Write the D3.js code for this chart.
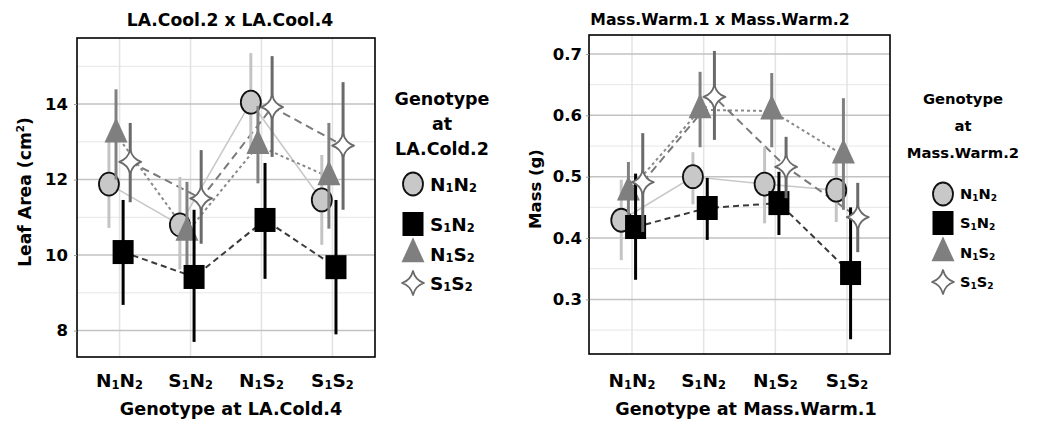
<!DOCTYPE html>
<html>
<head>
<meta charset="utf-8">
<script src="https://cdn.jsdelivr.net/npm/d3@7"></script>
<style>
  html, body { margin: 0; padding: 0; background: #fff; }
  svg { display: block; }
  text { font-family: "DejaVu Sans", sans-serif; font-weight: 700; fill: #000; }
</style>
</head>
<body>
<svg id="chart" width="1051" height="425"></svg>
<script>
// ---------------- DATA ----------------
const categories = ["N1N2", "S1N2", "N1S2", "S1S2"];       // x categories
const seriesNames = ["N1N2", "N1S2", "S1N2", "S1S2"];      // dodge / drawing order
const legendOrder = ["N1N2", "S1N2", "N1S2", "S1S2"];

// Panel 1: Leaf area (cm^2)
const laMean_N1N2 = [11.88, 10.80, 14.05, 11.46];
const laLow_N1N2  = [10.72, 9.62, 12.75, 10.27];
const laHigh_N1N2 = [13.00, 12.07, 15.35, 12.65];

const laMean_S1N2 = [10.08, 9.42, 10.93, 9.68];
const laLow_S1N2  = [8.68, 7.70, 9.37, 7.90];
const laHigh_S1N2 = [11.46, 11.20, 12.44, 11.46];

const laMean_N1S2 = [13.20, 10.60, 12.90, 12.07];
const laLow_N1S2  = [12.00, 9.28, 11.90, 10.70];
const laHigh_N1S2 = [14.39, 11.94, 13.95, 13.50];

const laMean_S1S2 = [12.47, 11.50, 13.92, 12.90];
const laLow_S1S2  = [11.40, 10.30, 12.60, 11.20];
const laHigh_S1S2 = [13.50, 12.78, 15.27, 14.58];

const laTicks = [8, 10, 12, 14];
const laMinor = [9, 11, 13, 15];

// Panel 2: Mass (g)
const mMean_N1N2 = [0.429, 0.500, 0.488, 0.478];
const mLow_N1N2  = [0.364, 0.455, 0.424, 0.426];
const mHigh_N1N2 = [0.495, 0.540, 0.548, 0.524];

const mMean_S1N2 = [0.418, 0.449, 0.457, 0.343];
const mLow_S1N2  = [0.332, 0.397, 0.405, 0.235];
const mHigh_S1N2 = [0.505, 0.498, 0.508, 0.450];

const mMean_N1S2 = [0.475, 0.609, 0.607, 0.535];
const mLow_N1S2  = [0.430, 0.548, 0.548, 0.446];
const mHigh_N1S2 = [0.524, 0.671, 0.669, 0.628];

const mMean_S1S2 = [0.491, 0.630, 0.516, 0.434];
const mLow_S1S2  = [0.410, 0.560, 0.465, 0.377];
const mHigh_S1S2 = [0.571, 0.705, 0.565, 0.490];

const mTicks = [0.3, 0.4, 0.5, 0.6, 0.7];
const mMinor = [0.25, 0.35, 0.45, 0.55, 0.65];

// ---------------- STYLE ----------------
const styles = {
  N1N2: { shape: "circle",   fill: "#c8c8c8", stroke: "#111", bar: "#c4c4c4", line: "#c8c8c8", lw: 1.6, dash: null },
  N1S2: { shape: "triangle", fill: "#7f7f7f", stroke: "none", bar: "#808080", line: "#8a8a8a", lw: 2,   dash: "3,3" },
  S1N2: { shape: "square",   fill: "#000",    stroke: "none", bar: "#000",    line: "#3a3a3a", lw: 2,   dash: "6,4" },
  S1S2: { shape: "star",     fill: "#fff",    stroke: "#6a6a6a", bar: "#6a6a6a", line: "#7a7a7a", lw: 2, dash: "8,5" }
};

function seriesTable(prefix) {
  const src = prefix === "la"
    ? { N1N2: [laMean_N1N2, laLow_N1N2, laHigh_N1N2], S1N2: [laMean_S1N2, laLow_S1N2, laHigh_S1N2],
        N1S2: [laMean_N1S2, laLow_N1S2, laHigh_N1S2], S1S2: [laMean_S1S2, laLow_S1S2, laHigh_S1S2] }
    : { N1N2: [mMean_N1N2, mLow_N1N2, mHigh_N1N2], S1N2: [mMean_S1N2, mLow_S1N2, mHigh_S1N2],
        N1S2: [mMean_N1S2, mLow_N1S2, mHigh_N1S2], S1S2: [mMean_S1S2, mLow_S1S2, mHigh_S1S2] };
  return seriesNames.map(name => ({
    name,
    values: categories.map((c, i) => ({ cat: c, mean: src[name][0][i], low: src[name][1][i], high: src[name][2][i] }))
  }));
}

const svg = d3.select("#chart");

function subText(sel, label, size) {
  // label like "N1N2": letters normal, digits as subscripts
  sel.text(null);
  let prevDigit = false;
  for (const ch of label) {
    const isDigit = /[0-9]/.test(ch);
    const t = sel.append("tspan").text(ch);
    if (isDigit) { t.attr("font-size", size * 0.62).attr("dy", prevDigit ? 0 : 1.5); }
    else { t.attr("font-size", size).attr("dy", prevDigit ? -1.5 : 0); }
    prevDigit = isDigit;
  }
}

function markerPath(shape) {
  if (shape === "triangle") {
    const w = 11.5, h = 25; // centroid at 0
    return `M0,${-h * 2 / 3}L${w},${h / 3}L${-w},${h / 3}Z`;
  }
  if (shape === "star") {
    const w = 11, h = 12, c = 0.22;
    return `M0,${-h}Q${w * c},${-h * c} ${w},0Q${w * c},${h * c} 0,${h}Q${-w * c},${h * c} ${-w},0Q${-w * c},${-h * c} 0,${-h}Z`;
  }
  return null;
}

function drawMarker(g, shape, st, x, y) {
  if (shape === "circle") {
    g.append("ellipse").attr("cx", x).attr("cy", y).attr("rx", 10).attr("ry", 11.5)
      .attr("fill", st.fill).attr("stroke", st.stroke).attr("stroke-width", 1.8);
  } else if (shape === "square") {
    g.append("rect").attr("x", x - 10.5).attr("y", y - 12).attr("width", 21).attr("height", 24)
      .attr("fill", st.fill);
  } else {
    g.append("path").attr("d", markerPath(shape)).attr("transform", `translate(${x},${y})`)
      .attr("fill", st.fill).attr("stroke", st.stroke).attr("stroke-width", shape === "star" ? 1.8 : 0)
      .attr("stroke-linejoin", "round");
  }
}

function drawPanel(cfg) {
  const g = svg.append("g");
  const { x0, x1, y0, y1 } = cfg.frame;
  const x = d3.scalePoint().domain(categories).range([x0, x1]).padding(0.6);
  const y = d3.scaleLinear().domain(cfg.yDomain).range([y1, y0]);
  const step = x.step();
  const dodge = d3.scalePoint().domain(seriesNames).range([-0.15 * step, 0.15 * step]);

  // grid
  g.selectAll(".minor").data(cfg.minor).join("line")
    .attr("x1", x0).attr("x2", x1).attr("y1", d => y(d)).attr("y2", d => y(d))
    .attr("stroke", "#e6e6e6").attr("stroke-width", 1);
  g.selectAll(".vgrid").data(categories).join("line")
    .attr("x1", d => x(d)).attr("x2", d => x(d)).attr("y1", y0).attr("y2", y1)
    .attr("stroke", "#e3e3e3").attr("stroke-width", 1.5);
  g.selectAll(".major").data(cfg.ticks).join("line")
    .attr("x1", x0).attr("x2", x1).attr("y1", d => y(d)).attr("y2", d => y(d))
    .attr("stroke", "#c2c2c2").attr("stroke-width", 1.5);

  const data = seriesTable(cfg.prefix);

  // lines
  const lineGen = d3.line().x(d => x(d.cat) + d.dx).y(d => y(d.mean));
  data.forEach(s => {
    const st = styles[s.name];
    const pts = s.values.map(v => ({ ...v, dx: dodge(s.name) }));
    g.append("path").attr("d", lineGen(pts)).attr("fill", "none")
      .attr("stroke", st.line).attr("stroke-width", st.lw)
      .attr("stroke-dasharray", st.dash);
  });

  // error bars + points, per series
  data.forEach(s => {
    const st = styles[s.name];
    const dx = dodge(s.name);
    s.values.forEach(v => {
      g.append("line").attr("x1", x(v.cat) + dx).attr("x2", x(v.cat) + dx)
        .attr("y1", y(v.low)).attr("y2", y(v.high))
        .attr("stroke", st.bar).attr("stroke-width", 3);
    });
    s.values.forEach(v => drawMarker(g, st.shape, st, x(v.cat) + dx, y(v.mean)));
  });

  // frame
  g.append("rect").attr("x", x0).attr("y", y0).attr("width", x1 - x0).attr("height", y1 - y0)
    .attr("fill", "none").attr("stroke", "#000").attr("stroke-width", 1.6);

  // y axis
  const ya = g.append("g").attr("transform", `translate(${x0},0)`)
    .call(d3.axisLeft(y).tickValues(cfg.ticks).tickSize(3).tickPadding(cfg.tickPad).tickFormat(cfg.fmt));
  ya.select(".domain").remove();
  ya.selectAll(".tick line").attr("stroke", "#999");
  ya.selectAll(".tick text").attr("font-size", 16.5).attr("font-family", "'DejaVu Sans', sans-serif")
    .attr("font-weight", 700).attr("fill", "#000");

  // x tick labels
  categories.forEach(c => {
    const t = g.append("text").attr("x", x(c)).attr("y", 387).attr("text-anchor", "middle");
    subText(t, c, 18.5);
  });

  // titles
  g.append("text").attr("x", cfg.titleX).attr("y", cfg.titleY).attr("text-anchor", "middle")
    .attr("font-size", cfg.titleSize).text(cfg.title);
  g.append("text").attr("x", cfg.xTitleX).attr("y", 415).attr("text-anchor", "middle")
    .attr("font-size", 17.6).text(cfg.xTitle);
  const yt = g.append("text").attr("transform", `translate(${cfg.yTitleX},${cfg.yTitleY}) rotate(-90)`)
    .attr("text-anchor", "middle").attr("font-size", cfg.yTitleSize);
  yt.append("tspan").text(cfg.yTitle);
  if (cfg.yTitleSup) {
    yt.append("tspan").attr("font-size", cfg.yTitleSize * 0.6).attr("dy", -7).text(cfg.yTitleSup);
    yt.append("tspan").attr("dy", 7).text(")");
  }

  // legend
  const lg = g.append("g");
  cfg.legendTitle.forEach((line, i) => {
    lg.append("text").attr("x", cfg.legendCx).attr("y", cfg.legendTitleY + i * cfg.legendTitleGap)
      .attr("text-anchor", "middle").attr("font-size", cfg.legendTitleSize).text(line);
  });
  legendOrder.forEach((name, i) => {
    const st = styles[name];
    const ly = cfg.legendItemY[i];
    drawMarker(lg, st.shape, st, cfg.legendMx, ly);
    const t = lg.append("text").attr("x", cfg.legendMx + 17).attr("y", ly + cfg.legendItemSize * 0.36);
    subText(t, name, cfg.legendItemSize);
  });
}

drawPanel({
  prefix: "la",
  frame: { x0: 77, x1: 375, y0: 38, y1: 357 },
  yDomain: [7.3, 15.75],
  ticks: laTicks, minor: laMinor, fmt: d3.format("d"), tickPad: 6,
  title: "LA.Cool.2 x LA.Cool.4", titleX: 230, titleY: 26, titleSize: 17.2,
  xTitle: "Genotype at LA.Cold.4", xTitleX: 231,
  yTitle: "Leaf Area (cm", yTitleSup: "2", yTitleX: 31, yTitleY: 192, yTitleSize: 17.2,
  legendTitle: ["Genotype", "at", "LA.Cold.2"], legendCx: 442, legendTitleY: 105, legendTitleGap: 25,
  legendTitleSize: 17.5, legendItemSize: 18.5,
  legendMx: 413, legendItemY: [184, 224, 254, 283]
});

drawPanel({
  prefix: "m",
  frame: { x0: 589, x1: 890, y0: 35, y1: 354 },
  yDomain: [0.211, 0.731],
  ticks: mTicks, minor: mMinor, fmt: d3.format(".1f"), tickPad: 4,
  title: "Mass.Warm.1 x Mass.Warm.2", titleX: 720, titleY: 25, titleSize: 15.7,
  xTitle: "Genotype at Mass.Warm.1", xTitleX: 746,
  yTitle: "Mass (g)", yTitleSup: null, yTitleX: 541, yTitleY: 189, yTitleSize: 16.5,
  legendTitle: ["Genotype", "at", "Mass.Warm.2"], legendCx: 963, legendTitleY: 104, legendTitleGap: 27,
  legendTitleSize: 14.8, legendItemSize: 14.6,
  legendMx: 943, legendItemY: [194, 223, 253, 282]
});
</script>
</body>
</html>
